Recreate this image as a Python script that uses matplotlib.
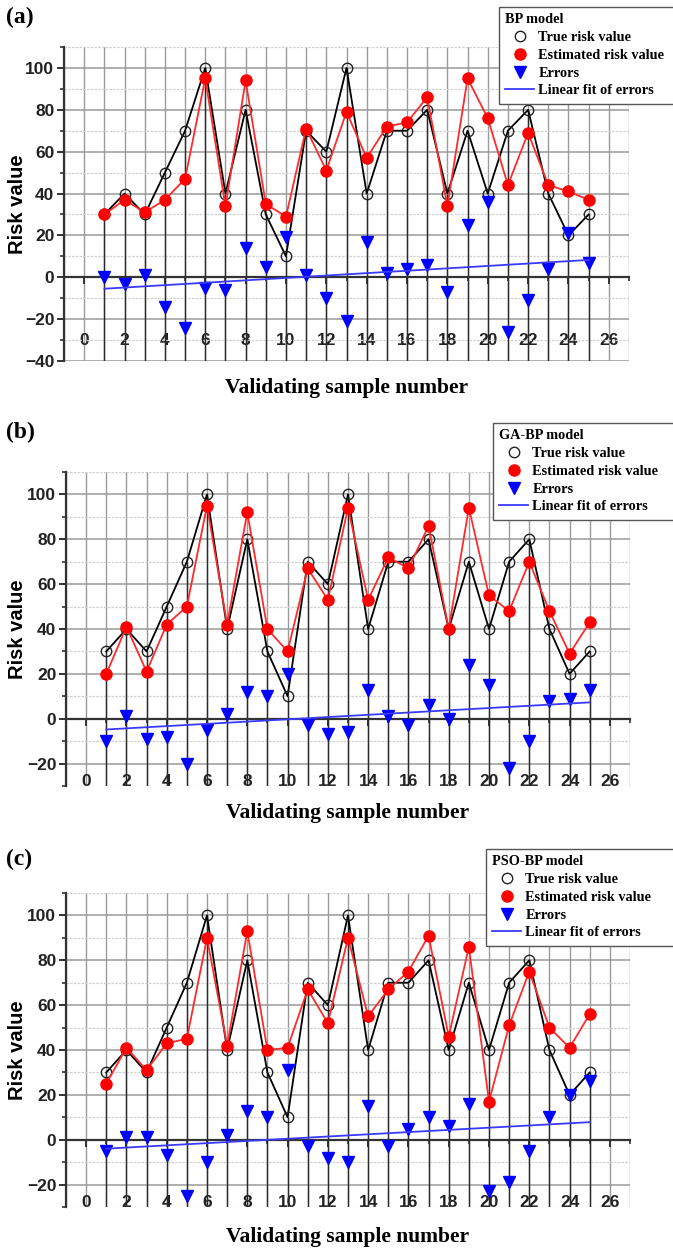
import numpy as np
import matplotlib
matplotlib.use("Agg")
import matplotlib.pyplot as plt
from matplotlib.ticker import MultipleLocator
from matplotlib.lines import Line2D

# ---------------- data ----------------
samples = list(range(1, 26))
true_risk = [30, 40, 30, 50, 70, 100, 40, 80, 30, 10, 70, 60, 100, 40, 70,
             70, 80, 40, 70, 40, 70, 80, 40, 20, 30]

est_bp = [30, 37, 31, 37, 47, 95, 34, 94, 35, 29, 71, 51, 79, 57, 72,
          74, 86, 34, 95, 76, 44, 69, 44, 41, 37]
err_bp = [0, -3, 1, -14, -24, -5, -6, 14, 5, 19, 1, -10, -21, 17, 2,
          4, 6, -7, 25, 36, -26, -11, 4, 21, 7]

est_ga = [20, 41, 21, 42, 50, 95, 42, 92, 40, 30, 67, 53, 94, 53, 72,
          67, 86, 40, 94, 55, 48, 70, 48, 29, 43]
err_ga = [-10, 1, -9, -8, -20, -5, 2, 12, 10, 20, -3, -7, -6, 13, 1,
          -3, 6, 0, 24, 15, -22, -10, 8, 9, 13]

est_pso = [25, 41, 31, 43, 45, 90, 42, 93, 40, 41, 67, 52, 90, 55, 67,
           75, 91, 46, 86, 17, 51, 75, 50, 41, 56]
err_pso = [-5, 1, 1, -7, -25, -10, 2, 13, 10, 31, -3, -8, -10, 15, -3,
           5, 10, 6, 16, -23, -19, -5, 10, 20, 26]

panel_tags = ["(a)", "(b)", "(c)"]
model_names = ["BP model", "GA-BP model", "PSO-BP model"]
y_ranges = [(-40, 110), (-30, 110), (-30, 110)]
x_ticks = list(range(0, 27, 2))
legend_labels = ["True risk value", "Estimated risk value", "Errors", "Linear fit of errors"]
xlabel_text = "Validating sample number"
ylabel_text = "Risk value"

# ---------------- layout ----------------
W, H = 673, 1251
fig = plt.figure(figsize=(W / 100, H / 100), dpi=100)

# pixel boxes: left, right, top, bottom
boxes = [(64, 629, 47, 361), (66, 630, 472, 786), (66, 630, 893, 1207)]
tag_pos = [(6, 7), (6, 422), (6, 849)]
legend_pos = [(499, 7), (493, 423), (486, 849)]

SERIF = "Liberation Serif"
SANS = "Liberation Sans"

estimates = [est_bp, est_ga, est_pso]
errors = [err_bp, err_ga, err_pso]

for i in range(3):
    l, r, t, b = boxes[i]
    ax = fig.add_axes([l / W, 1 - b / H, (r - l) / W, (b - t) / H])
    ylo, yhi = y_ranges[i]
    ax.set_xlim(-1, 27)
    ax.set_ylim(ylo, yhi)

    # grid
    ax.xaxis.set_major_locator(MultipleLocator(2))
    ax.xaxis.set_minor_locator(MultipleLocator(1))
    ax.yaxis.set_major_locator(MultipleLocator(20))
    ax.yaxis.set_minor_locator(MultipleLocator(10))
    ax.set_xticks(x_ticks)
    ax.grid(which="major", axis="x", color="#9a9a9a", lw=1.0, zorder=0)
    ax.grid(which="minor", axis="x", color="#9a9a9a", lw=1.0, zorder=0)
    ax.grid(which="major", axis="y", color="#9a9a9a", lw=1.1, zorder=0)
    ax.grid(which="minor", axis="y", color="#d0d0d0", lw=0.9, ls=(0, (2, 1)), zorder=0)
    ax.set_axisbelow(True)

    # spines
    for s in ["top", "right"]:
        ax.spines[s].set_visible(False)
    ax.spines["left"].set_color("#333333")
    ax.spines["left"].set_linewidth(1.6)
    ax.spines["bottom"].set_position(("data", 0))
    ax.spines["bottom"].set_color("#333333")
    ax.spines["bottom"].set_linewidth(1.6)

    ax.tick_params(axis="y", which="major", direction="out", length=5, width=1.4,
                   color="#333333", pad=2)
    ax.tick_params(axis="y", which="minor", direction="out", length=3, width=1.2,
                   color="#333333")
    ax.tick_params(axis="x", which="major", direction="out", length=5, width=1.4,
                   color="#333333", pad=35)
    ax.tick_params(axis="x", which="minor", direction="out", length=3, width=1.2,
                   color="#333333")
    for lab in ax.get_xticklabels() + ax.get_yticklabels():
        lab.set_fontfamily(SANS)
        lab.set_fontweight("bold")
        lab.set_fontsize(12.5)
        lab.set_color("#222222")

    # drop lines
    ax.vlines(samples, ylo, true_risk, colors="#2a2a2a", lw=1.0, zorder=1)

    # series
    ax.plot(samples, true_risk, color="black", lw=1.3, zorder=3,
            marker="o", ms=7.5, mfc="none", mec="#222222", mew=1.0)
    ax.plot(samples, estimates[i], color="#ff2a2a", lw=1.3, zorder=4,
            marker="o", ms=8, mfc="#ff0000", mec="#ff0000")
    ax.plot(samples, errors[i], ls="none", marker="v", ms=8.5, color="#0000ff",
            zorder=5)
    slope, icept = np.polyfit(samples, errors[i], 1)
    xf = np.array([samples[0], samples[-1]])
    ax.plot(xf, slope * xf + icept, color="#3a3aff", lw=1.3, zorder=6)

    # labels
    ax.set_xlabel(xlabel_text, fontfamily=SERIF, fontweight="bold", fontsize=15.5)
    ax.xaxis.label.set_verticalalignment("center")
    ax.xaxis.set_label_coords(0.5, -(27 + (3 if i == 2 else 0)) / (b - t))
    ax.set_ylabel(ylabel_text, fontfamily=SANS, fontweight="bold", fontsize=14.5)
    ax.yaxis.label.set_verticalalignment("center")
    ax.yaxis.set_label_coords((18 - l) / (r - l), 0.5)

    # panel tag
    tx, ty = tag_pos[i]
    fig.text(tx / W, 1 - ty / H, panel_tags[i], fontfamily=SERIF, fontweight="bold",
             fontsize=17, va="top", ha="left")

    # legend
    handles = [
        Line2D([], [], ls="none", marker="o", ms=7.5, mfc="none", mec="#222222", mew=1.0),
        Line2D([], [], ls="none", marker="o", ms=8, mfc="#ff0000", mec="#ff0000"),
        Line2D([], [], ls="none", marker="v", ms=8.5, color="#0000ff"),
        Line2D([], [], color="#3a3aff", lw=1.3),
    ]
    lx, ly = legend_pos[i]
    bh = 0.1
    leg = fig.legend(handles, legend_labels, loc="upper left",
                     bbox_to_anchor=(lx / W, 1 - ly / H - bh, (W + 10 - lx) / W, bh),
                     mode="expand",
                     title=model_names[i], alignment="left",
                     prop={"family": SERIF, "weight": "bold", "size": 10.3},
                     title_fontproperties={"family": SERIF, "weight": "bold", "size": 10.3},
                     frameon=True, fancybox=False, edgecolor="#555555",
                     framealpha=1, borderpad=0.45, labelspacing=0.33,
                     handlelength=2.0, handletextpad=0.3, borderaxespad=0)
    leg.get_frame().set_linewidth(1.0)

fig.savefig("out.png", dpi=100)
